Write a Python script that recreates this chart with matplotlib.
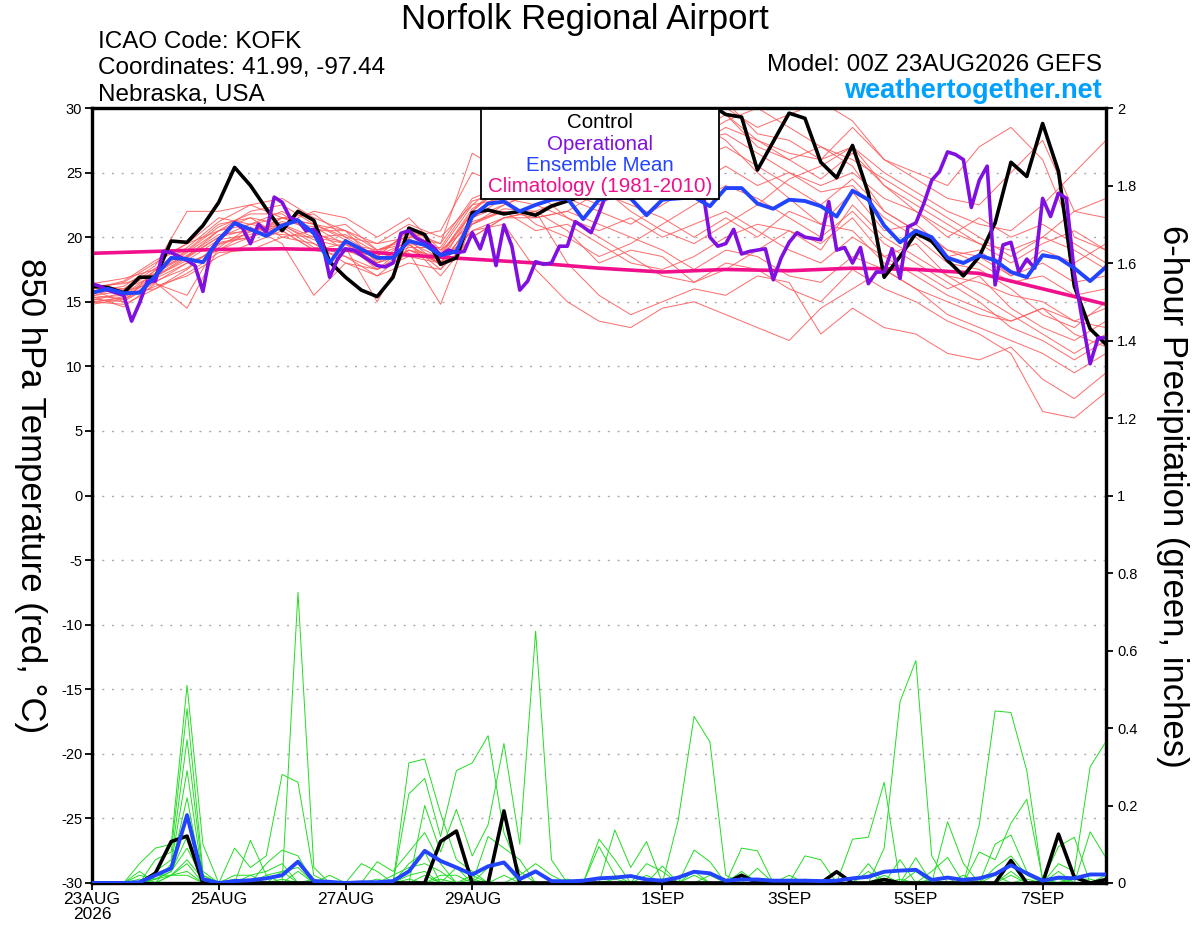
import numpy as np
import matplotlib
matplotlib.use('Agg')
import matplotlib.pyplot as plt
from matplotlib.patches import Rectangle
from matplotlib.ticker import FuncFormatter

plt.rcParams['font.family'] = ['Liberation Sans', 'DejaVu Sans']

# ---------------- data ----------------
fhr_3h = list(range(0, 385, 3))
fhr_6h = list(range(0, 385, 6))
fhr_12h = list(range(0, 385, 12))
fhr_24h = list(range(0, 385, 24))

xtick_hours = [0, 48, 96, 144, 216, 264, 312, 360]
xtick_labels = ['23AUG\n2026', '25AUG', '27AUG', '29AUG', '1SEP', '3SEP', '5SEP', '7SEP']

control_t = [16.2, 16.1, 15.7, 16.9, 16.9, 19.7, 19.6, 20.9, 22.7, 25.4, 24.0, 22.2, 20.5,
             22.0, 21.3, 18.1, 16.9, 15.9, 15.4, 16.9, 20.7, 20.2, 17.9, 18.4, 21.9, 22.1,
             21.8, 22.0, 21.7, 22.4, 22.8, 23.2, 24.0, 24.5, 25.5, 26.0, 27.0, 27.5, 28.5,
             30.3, 29.5, 29.3, 25.2, 27.4, 29.6, 29.2, 25.8, 24.6, 27.1, 23.4, 16.9, 18.5,
             20.3, 19.7, 18.2, 17.0, 18.5, 21.1, 25.8, 24.7, 28.8, 25.1, 16.2, 12.9, 11.7]

mean_t = [15.7, 16.0, 15.66, 15.7, 17.0, 18.4, 18.3, 18.06, 19.8, 21.1, 20.6, 20.1, 20.9,
          21.3, 20.3, 18.0, 19.7, 19.06, 18.4, 18.4, 19.7, 19.4, 18.6, 18.9, 21.6, 22.6,
          22.75, 22.0, 22.5, 22.9, 23.0, 21.4, 22.9, 23.1, 23.0, 21.7, 22.9, 23.0, 23.1,
          22.4, 23.8, 23.8, 22.6, 22.2, 22.9, 22.8, 22.4, 21.6, 23.6, 22.9, 20.9, 19.6,
          20.5, 20.0, 18.4, 18.0, 18.6, 18.2, 17.3, 16.9, 18.6, 18.4, 17.6, 16.6, 17.7]

oper_t = [16.4, 16.2, 15.9, 15.7, 15.5, 13.5, 14.9, 16.6, 16.6, 18.9, 18.8, 18.5, 18.2,
          17.8, 15.8, 19.0, 19.8, 20.4, 21.1, 20.7, 19.5, 21.0, 20.4, 23.1, 22.7, 21.5,
          21.3, 20.5, 20.6, 19.8, 16.9, 18.3, 19.1, 19.0, 18.6, 18.2, 17.8, 17.7, 18.0,
          20.3, 20.5, 19.9, 19.6, 19.3, 18.6, 19.0, 18.8, 18.9, 20.35, 19.1, 20.9, 17.8,
          20.95, 19.3, 15.9, 16.6, 18.1, 17.9, 18.0, 19.3, 19.3, 21.2, 20.8, 20.35, 21.85,
          23.5, 24.5, 24.0, 25.0, 24.0, 25.5, 25.0, 26.0, 25.0, 26.0, 25.0, 24.5, 24.0,
          20.0, 19.3, 19.5, 20.6, 18.7, 18.9, 19.0, 19.1, 16.7, 18.4, 19.6, 20.35, 20.0,
          19.9, 19.8, 22.75, 19.0, 19.2, 18.0, 19.2, 16.4, 17.3, 17.3, 19.1, 16.8, 20.8,
          21.1, 22.6, 24.4, 25.1, 26.6, 26.4, 26.0, 22.3, 24.4, 25.5, 16.3, 19.4, 19.6,
          17.3, 18.3, 17.6, 23.0, 21.6, 23.4, 23.0, 17.2, 13.6, 10.2, 12.2, 12.2]

clim_t = [18.75, 18.9, 19.05, 19.1, 19.0, 18.6, 18.3, 18.0, 17.6, 17.3, 17.5, 17.4,
          17.6, 17.5, 17.2, 16.0, 14.8]

mem01 = [15.2, 15.0, 17.5, 19.0, 21.0, 21.5, 20.0, 19.5, 18.0, 17.0, 19.0, 18.5, 22.0, 24.5, 25.5, 27.0, 28.5, 29.0, 30.5, 29.0, 27.5, 25.0, 23.0, 21.0, 20.5, 18.0, 17.5, 16.0, 17.0, 14.5, 13.0, 12.0, 13.5]
mem02 = [16.0, 16.5, 18.0, 19.5, 20.5, 22.0, 22.5, 21.0, 20.5, 19.0, 20.0, 19.5, 26.5, 25.0, 26.0, 28.0, 30.5, 31.0, 29.5, 27.0, 28.5, 27.5, 26.5, 26.0, 27.0, 25.0, 23.5, 22.0, 21.0, 20.5, 22.5, 25.0, 27.5]
mem03 = [15.5, 15.8, 16.5, 18.0, 19.0, 20.0, 21.5, 21.0, 20.0, 19.5, 21.0, 20.0, 22.5, 23.0, 21.0, 20.0, 18.5, 19.5, 21.0, 22.5, 24.0, 23.0, 21.5, 20.0, 22.0, 19.5, 18.0, 16.5, 15.0, 13.0, 12.0, 10.5, 12.0]
mem04 = [15.0, 14.8, 16.0, 17.5, 19.5, 20.0, 21.0, 22.0, 21.5, 20.0, 21.5, 19.0, 21.0, 22.5, 23.5, 25.0, 24.0, 22.0, 20.5, 19.5, 21.0, 22.5, 24.5, 25.5, 27.0, 24.0, 22.5, 21.0, 19.5, 18.0, 19.5, 20.5, 19.0]
mem05 = [16.3, 16.0, 17.0, 18.5, 20.0, 21.0, 20.5, 19.0, 18.5, 17.5, 19.5, 17.0, 20.0, 21.5, 22.0, 18.0, 15.5, 14.0, 15.0, 16.0, 15.5, 17.0, 16.5, 12.5, 14.5, 13.0, 12.5, 11.0, 10.5, 11.5, 9.0, 7.5, 9.5]
mem06 = [15.8, 16.2, 17.8, 22.0, 22.0, 22.5, 23.0, 21.5, 20.5, 18.0, 19.0, 18.0, 22.0, 24.0, 24.5, 26.5, 27.5, 28.5, 27.0, 29.0, 30.5, 28.0, 27.5, 26.0, 28.5, 26.0, 24.5, 23.0, 22.5, 25.0, 27.5, 22.0, 21.5]
mem07 = [15.5, 15.2, 16.2, 17.0, 18.5, 19.5, 20.5, 19.0, 19.5, 17.5, 18.5, 18.0, 20.5, 21.0, 17.5, 15.0, 13.5, 13.0, 14.5, 15.0, 14.0, 13.0, 12.0, 14.5, 16.0, 17.5, 16.0, 15.0, 14.0, 13.5, 14.5, 13.5, 14.5]
mem08 = [16.1, 15.6, 17.2, 18.8, 20.5, 21.0, 21.5, 20.5, 19.0, 18.5, 20.5, 19.5, 23.0, 24.0, 23.0, 24.5, 25.0, 26.5, 28.0, 27.5, 29.0, 30.0, 28.5, 27.0, 25.5, 22.0, 20.5, 18.5, 19.0, 17.0, 18.0, 16.5, 17.0]
mem09 = [14.9, 15.4, 16.8, 18.0, 19.0, 20.5, 21.0, 20.0, 19.5, 19.0, 19.5, 17.5, 20.0, 21.5, 22.0, 23.0, 22.0, 21.0, 22.5, 24.0, 25.5, 24.0, 25.0, 23.5, 24.0, 21.5, 20.0, 18.0, 17.5, 16.0, 14.0, 13.0, 15.0]
mem10 = [16.4, 16.8, 17.5, 18.5, 20.5, 21.5, 21.0, 19.5, 18.5, 17.0, 18.0, 17.5, 21.5, 23.0, 22.5, 21.5, 20.0, 18.5, 17.0, 16.5, 18.0, 17.5, 16.0, 15.0, 17.5, 16.0, 15.0, 13.5, 12.5, 11.0, 6.5, 6.0, 8.0]
mem11 = [15.3, 15.5, 17.0, 18.2, 19.8, 20.2, 21.5, 21.8, 20.0, 18.5, 20.5, 19.0, 22.5, 24.5, 26.0, 25.5, 27.0, 28.0, 29.0, 30.5, 29.5, 27.0, 26.0, 24.5, 26.5, 24.0, 22.0, 20.0, 21.5, 20.0, 21.0, 19.5, 18.0]
mem12 = [15.9, 15.0, 16.5, 14.5, 19.2, 20.8, 19.5, 15.5, 18.0, 17.5, 19.0, 18.0, 21.0, 22.0, 20.5, 21.0, 19.5, 18.0, 17.5, 18.5, 20.0, 21.0, 20.5, 19.5, 21.5, 18.5, 17.0, 15.5, 14.5, 13.5, 14.5, 12.5, 11.5]
mem13 = [16.0, 16.6, 18.2, 19.5, 21.5, 21.0, 22.0, 20.5, 20.5, 19.5, 20.0, 20.5, 25.0, 24.0, 25.0, 24.0, 25.5, 27.0, 26.0, 27.5, 28.0, 26.5, 25.0, 24.0, 25.0, 23.0, 22.0, 20.5, 19.5, 19.0, 20.0, 22.0, 23.0]
mem14 = [15.1, 15.7, 16.0, 17.2, 18.8, 19.0, 20.0, 20.5, 21.0, 19.0, 19.8, 17.8, 20.5, 21.5, 21.5, 22.0, 23.5, 22.5, 21.5, 20.0, 21.5, 20.0, 22.0, 21.0, 23.5, 20.5, 21.0, 19.0, 18.0, 16.5, 17.0, 15.5, 16.0]
mem15 = [15.6, 16.0, 17.6, 19.2, 21.2, 22.5, 21.5, 21.0, 19.8, 18.2, 19.2, 19.2, 22.8, 23.5, 24.0, 23.5, 22.5, 24.0, 25.5, 26.0, 27.0, 25.5, 24.0, 22.5, 24.5, 22.0, 20.5, 19.0, 18.5, 17.0, 19.0, 18.0, 19.5]
mem16 = [15.4, 14.6, 16.4, 15.5, 19.6, 20.0, 20.8, 19.2, 19.0, 18.0, 18.8, 14.8, 21.2, 22.0, 21.5, 22.0, 21.0, 20.0, 19.0, 17.5, 19.0, 18.5, 17.0, 16.5, 18.5, 17.5, 16.0, 14.0, 13.0, 12.0, 11.0, 9.5, 11.0]
mem17 = [16.2, 16.4, 17.2, 18.6, 20.2, 20.5, 20.2, 20.0, 20.2, 18.8, 20.2, 18.8, 21.8, 23.5, 23.0, 24.5, 26.0, 27.5, 29.5, 31.0, 30.0, 28.5, 29.5, 30.5, 29.0, 26.0, 25.0, 24.0, 27.0, 28.5, 26.0, 20.0, 19.0]
mem18 = [14.8, 15.2, 16.6, 17.6, 19.4, 20.4, 21.2, 20.8, 19.4, 18.6, 19.6, 18.4, 21.5, 22.5, 23.5, 21.5, 20.5, 21.5, 20.0, 21.0, 22.0, 20.5, 19.0, 18.0, 20.0, 18.5, 19.5, 17.0, 16.5, 15.5, 15.0, 13.5, 13.0]
mem19 = [15.7, 15.9, 17.4, 18.9, 20.8, 21.8, 21.8, 20.2, 19.6, 18.0, 19.9, 18.6, 22.2, 23.8, 24.5, 25.5, 26.5, 25.0, 26.5, 28.0, 29.5, 27.5, 26.0, 27.0, 26.0, 24.5, 23.0, 21.5, 20.0, 18.5, 20.0, 19.0, 17.5]
mem20 = [15.0, 15.3, 16.9, 18.4, 20.0, 20.6, 20.9, 19.8, 19.2, 15.0, 19.4, 18.0, 21.0, 22.2, 22.0, 20.5, 18.0, 19.0, 18.5, 16.5, 17.5, 19.0, 20.5, 19.0, 22.5, 20.0, 18.5, 17.0, 15.5, 14.0, 12.5, 11.0, 12.5]
members_t = [mem01, mem02, mem03, mem04, mem05, mem06, mem07, mem08, mem09, mem10,
             mem11, mem12, mem13, mem14, mem15, mem16, mem17, mem18, mem19, mem20]

control_p = [0, 0, 0, 0, .025, .107, .121, 0, 0, 0,
             0, 0, 0, 0, 0, 0, 0, 0, 0, 0,
             0, 0, .107, .134, 0, 0, .186, 0, 0, 0,
             0, 0, 0, 0, 0, 0, .006, 0, 0, 0,
             0, .02, 0, 0, 0, 0, 0, .029, 0, 0,
             .009, 0, 0, 0, 0, 0, 0, 0, .058, 0,
             0, .126, .015, 0, .009]
mean_p = [0, 0, 0, .002, .02, .038, .175, .010, 0, .005,
          .007, .012, .02, .055, .005, .003, 0, .002, .002, .005,
          .03, .083, .057, .04, .022, .043, .053, .01, .03, .005,
          .004, .006, .012, .014, .018, .009, .006, .014, .029, .025,
          .006, .009, .009, .006, .006, .006, .005, .006, .012, .016,
          .029, .032, .034, .008, .014, .008, .012, .023, .046, .025,
          .006, .014, .012, .022, .022]

pm01 = [0, 0, 0, .05, .09, .10, .51, .10, 0, 0,
        0, 0, .03, .04, 0, 0, 0, 0, 0, 0,
        .31, .32, .18, .06, .03, 0, 0, 0, 0, 0,
        0, 0, 0, 0, 0, 0, 0, 0, .085, .055,
        0, 0, 0, 0, 0, 0, 0, 0, 0, 0,
        .09, .468, .574, .07, 0, 0, 0, .10, .124, .03,
        0, 0, 0, .132, .065]
pm02 = [0, 0, 0, 0, .06, .08, .45, .03, 0, 0,
        .11, .02, 0, .75, .04, 0, 0, 0, 0, 0,
        .23, .27, .12, .29, .31, .38, .13, .03, 0, 0,
        0, 0, .113, .06, 0, 0, 0, .162, .43, .364,
        .02, 0, 0, 0, 0, 0, 0, 0, 0, 0,
        0, 0, 0, 0, 0, 0, .15, .444, .44, .29,
        .006, .094, .118, 0, 0]
pm03 = [0, 0, 0, 0, .03, .06, .37, .02, 0, .09,
        .04, .07, .28, .26, .02, 0, 0, 0, 0, 0,
        0, .20, .08, .19, .07, .15, .36, .10, .65, .06,
        0, 0, 0, .137, .04, .107, 0, 0, 0, 0,
        0, .09, .083, 0, 0, 0, 0, 0, .113, .118,
        .26, 0, 0, 0, .158, .05, 0, 0, 0, 0,
        0, .05, .03, .30, .365]
pm04 = [0, 0, 0, .03, 0, .05, .29, .01, 0, 0,
        0, .05, .085, .07, 0, 0, 0, 0, .055, .03,
        .08, .13, .05, 0, 0, .12, .09, .06, 0, 0,
        0, 0, .094, .02, 0, 0, .044, 0, 0, 0,
        0, 0, 0, 0, 0, .07, .06, 0, 0, .05,
        0, 0, .065, 0, 0, 0, .08, .06, .154, .216,
        .01, 0, 0, 0, 0]
pm05 = [0, 0, 0, 0, .02, .04, .22, 0, 0, .02,
        .02, .03, .05, 0, 0, 0, 0, .05, .03, 0,
        .05, .08, 0, .04, 0, .04, .05, 0, 0, 0,
        0, 0, 0, 0, 0, .05, .03, 0, .03, 0,
        0, 0, .038, 0, .02, 0, 0, 0, 0, 0,
        0, .06, 0, .03, .066, 0, 0, 0, .05, 0,
        0, .03, 0, 0, 0]
pm06 = [0, 0, 0, 0, .02, .04, .18, .02, 0, 0,
        0, .02, .03, 0, 0, .02, 0, 0, 0, .02,
        .04, .05, .03, 0, .02, 0, 0, .02, .05, .02,
        0, 0, 0, 0, 0, 0, 0, 0, 0, 0,
        0, .03, 0, 0, 0, 0, 0, .03, 0, 0,
        0, 0, .03, 0, 0, 0, 0, .04, .07, .02,
        0, 0, 0, 0, 0]
pm07 = [0, 0, 0, .02, .01, .03, .12, 0, 0, 0,
        .02, 0, 0, 0, 0, 0, 0, 0, 0, 0,
        0, 0, .02, .02, 0, 0, 0, 0, 0, 0,
        .01, 0, 0, 0, 0, 0, 0, 0, .02, 0,
        0, 0, 0, 0, 0, 0, 0, 0, 0, 0,
        .02, 0, 0, 0, 0, 0, 0, 0, .03, 0,
        0, 0, 0, 0, .02]
pm08 = [0, 0, 0, 0, .01, .03, .09, .01, 0, 0,
        0, 0, 0, .03, 0, 0, 0, 0, 0, 0,
        .02, .03, 0, 0, 0, 0, .02, 0, 0, 0,
        0, 0, 0, 0, 0, 0, 0, 0, 0, 0,
        0, 0, 0, 0, 0, 0, 0, 0, 0, .03,
        0, 0, 0, 0, 0, .02, 0, 0, 0, 0,
        0, 0, .02, 0, 0]
pm09 = [0, 0, 0, .01, 0, .02, .05, 0, 0, 0,
        0, 0, .01, 0, 0, 0, 0, 0, 0, 0,
        0, .02, 0, 0, 0, 0, 0, 0, 0, 0,
        0, 0, 0, 0, 0, .02, 0, 0, 0, 0,
        0, 0, 0, 0, 0, .01, 0, 0, 0, 0,
        0, 0, 0, 0, 0, 0, 0, 0, .02, 0,
        0, 0, 0, 0, 0]
pm10 = [0, 0, 0, 0, .01, .02, .03, 0, 0, 0,
        0, 0, 0, 0, .01, 0, 0, 0, 0, 0,
        0, 0, .01, 0, 0, 0, 0, 0, 0, 0,
        0, 0, 0, 0, 0, 0, 0, 0, 0, .02,
        0, 0, 0, 0, 0, 0, 0, 0, 0, 0,
        0, 0, 0, .01, 0, 0, 0, 0, 0, 0,
        0, .01, 0, 0, 0]
pm11 = [0, 0, 0, 0, 0, .02, .02, 0, 0, .01,
        0, 0, 0, 0, 0, 0, 0, 0, 0, 0,
        .01, 0, 0, 0, 0, 0, 0, 0, 0, 0,
        0, 0, 0, .01, 0, 0, 0, 0, 0, 0,
        0, 0, 0, 0, 0, 0, 0, 0, 0, 0,
        0, 0, 0, 0, 0, 0, 0, .02, 0, 0,
        0, 0, 0, 0, 0]
pm12 = [0, 0, 0, 0, .02, .02, .06, .01, 0, 0,
        0, 0, 0, 0, 0, 0, 0, 0, .01, 0,
        0, 0, 0, 0, .01, 0, 0, 0, 0, 0,
        0, 0, 0, 0, 0, 0, .01, 0, 0, 0,
        0, 0, 0, 0, .01, 0, 0, 0, 0, 0,
        0, .01, 0, 0, 0, 0, 0, 0, 0, .01,
        0, 0, .01, .01, 0]
members_p = [pm01, pm02, pm03, pm04, pm05, pm06, pm07, pm08, pm09, pm10, pm11, pm12]

# ---------------- figure ----------------
W, H = 1200, 927
fig = plt.figure(figsize=(W / 100, H / 100), dpi=100)
L, R, T, B = 92, 1106, 108, 883
ax = fig.add_axes([L / W, 1 - B / H, (R - L) / W, (B - T) / H])
ax2 = ax.twinx()

RED = '#FF5A5A'
GREEN = '#22DD22'
PURPLE = '#8010E0'
BLUE = '#2244FF'
MAGENTA = '#F0108C'

for m in members_t:
    ax.plot(fhr_12h, m, color=RED, lw=0.7, alpha=0.9, zorder=2)
ax.plot(fhr_24h, clim_t, color=MAGENTA, lw=2.6, zorder=3, solid_joinstyle='round')
ax.plot(fhr_6h, control_t, color='black', lw=2.6, zorder=4)
ax.plot(fhr_3h, oper_t, color=PURPLE, lw=2.6, zorder=5)
ax.plot(fhr_6h, mean_t, color=BLUE, lw=2.8, zorder=6)

for m in members_p:
    ax2.plot(fhr_6h, m, color=GREEN, lw=0.7, zorder=2)
ax2.plot(fhr_6h, control_p, color='black', lw=2.6, zorder=4)
ax2.plot(fhr_6h, mean_p, color=BLUE, lw=2.8, zorder=5)

ax.set_xlim(0, 384)
ax.set_ylim(-30, 30)
ax2.set_ylim(0, 2)

ax.set_yticks(list(range(-30, 31, 5)))
ax.yaxis.set_major_formatter(FuncFormatter(lambda v, p: '%d' % v))
ax.grid(axis='y', color='#aaaaaa', lw=1.0, linestyle=(0, (1.5, 5.5)))
ax.set_axisbelow(True)
ax2.set_yticks([0, 0.2, 0.4, 0.6, 0.8, 1.0, 1.2, 1.4, 1.6, 1.8, 2.0])
ax2.yaxis.set_major_formatter(FuncFormatter(lambda v, p: '%g' % round(v, 1)))

ax.set_xticks(xtick_hours)
ax.set_xticklabels(xtick_labels, fontsize=12.5, linespacing=1.0)
ax.tick_params(axis='x', direction='out', length=5, width=1.3, pad=1.5)
ax.tick_params(axis='y', direction='out', length=5, width=1.3, labelsize=10.5, pad=2)
ax2.tick_params(axis='y', direction='out', length=5, width=1.3, labelsize=10.5, pad=3)

for a in (ax, ax2):
    for s in a.spines.values():
        s.set_linewidth(2.3)
        s.set_color('black')

# header texts
fig.text(585 / W, 1 - 19 / H, 'Norfolk Regional Airport', ha='center', va='center', fontsize=25)
fig.text(98 / W, 1 - 42 / H, 'ICAO Code: KOFK', ha='left', va='center', fontsize=17.5)
fig.text(98 / W, 1 - 68 / H, 'Coordinates: 41.99, -97.44', ha='left', va='center', fontsize=17.5)
fig.text(98 / W, 1 - 95 / H, 'Nebraska, USA', ha='left', va='center', fontsize=17.5)
fig.text(1102 / W, 1 - 65 / H, 'Model: 00Z 23AUG2026 GEFS', ha='right', va='center', fontsize=17.5)
fig.text(1102 / W, 1 - 91 / H, 'weathertogether.net', ha='right', va='center', fontsize=19.5,
         fontweight='bold', color='#00A0FF')

# axis titles
fig.text(30 / W, 1 - 496 / H, '850 hPa Temperature (red, °C)', rotation=270, ha='center',
         va='center', fontsize=25)
fig.text(1172 / W, 1 - 496 / H, '6-hour Precipitation (green, inches)', rotation=270,
         ha='center', va='center', fontsize=25)

# legend box
fig.add_artist(Rectangle((481 / W, 1 - 199 / H), (719 - 481) / W, (199 - 109) / H,
                         transform=fig.transFigure, facecolor='white', edgecolor='black',
                         lw=1.3, zorder=10))
leg_items = [('Control', 'black'), ('Operational', PURPLE), ('Ensemble Mean', BLUE),
             ('Climatology (1981-2010)', MAGENTA)]
for i, (txt, col) in enumerate(leg_items):
    fig.text(600 / W, 1 - (123 + 21.3 * i) / H, txt, ha='center', va='center', fontsize=14.8,
             color=col, zorder=11)

fig.savefig('out.png', dpi=100)
